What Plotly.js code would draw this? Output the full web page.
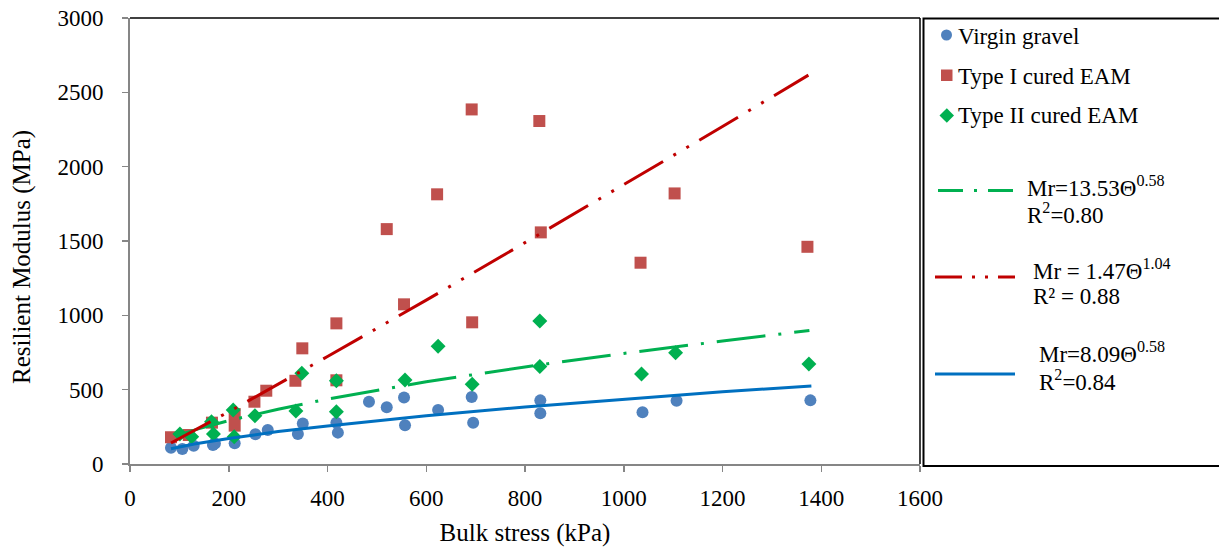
<!DOCTYPE html>
<html>
<head>
<meta charset="utf-8">
<script src="https://cdn.plot.ly/plotly-3.0.1.min.js"></script>
<style>html,body{margin:0;padding:0;background:#fff}#chart{width:1219px;height:548px}</style>
</head>
<body>
<div id="chart"></div>
<script>
// ---- data ----
const gravelX = [83, 106, 129, 168, 172, 212, 254, 279, 340, 350, 418, 421, 484, 520, 555, 557, 624, 692, 695, 831, 831, 1038, 1107, 1378];
const gravelY = [110, 101, 123, 128, 138, 139, 200, 229, 202, 272, 278, 211, 419, 381, 448, 260, 363, 450, 278, 428, 341, 348, 426, 428];

const type1X = [83, 119, 166, 212, 212, 252, 276, 335, 349, 418, 418, 520, 555, 622, 692, 693, 829, 832, 1034, 1103, 1372];
const type1Y = [180, 195, 278, 336, 258, 419, 493, 560, 778, 946, 563, 1580, 1074, 1814, 2385, 953, 2307, 1558, 1354, 1820, 1461];

const type2X = [101, 125, 165, 169, 209, 211, 253, 336, 348, 418, 418, 557, 624, 693, 830, 830, 1036, 1105, 1375];
const type2Y = [202, 184, 285, 202, 363, 184, 325, 356, 610, 560, 352, 565, 792, 536, 962, 656, 605, 748, 672];

// trend lines
const fitType2X = [100, 140, 200, 300, 400, 600, 800, 1000, 1200, 1376];
const fitType2Y = [196, 238, 292, 368, 437, 553, 653, 744, 827, 898];

const fitType1X = [83, 200, 400, 600, 800, 1000, 1200, 1374];
const fitType1Y = [141, 351, 723, 1102, 1489, 1877, 2270, 2616];

const fitGravelX = [83, 130, 200, 300, 400, 600, 800, 1000, 1200, 1380];
const fitGravelY = [102, 134, 172, 218, 256, 325, 384, 437, 486, 525];

const seriesNames = ['Virgin gravel', 'Type I cured EAM', 'Type II cured EAM'];
const eqType2 = ['Mr=13.53\u0398<sup>0.58</sup>', 'R<sup>2</sup>=0.80'];
const eqType1 = ['Mr = 1.47\u0398<sup>1.04</sup>', 'R\u00b2 = 0.88'];
const eqGravel = ['Mr=8.09\u0398<sup>0.58</sup>', 'R<sup>2</sup>=0.84'];

const xTitle = 'Bulk stress (kPa)';
const yTitle = 'Resilient Modulus (MPa)';

// ---- layout geometry ----
const W = 1219, H = 548;
const M = {l: 130, r: 299, t: 18, b: 84};
const PW = W - M.l - M.r, PH = H - M.t - M.b;
const px = p => (p - M.l) / PW;
const py = p => (M.t + PH - p) / PH;

const FONT = '"Times New Roman", "Liberation Serif", serif';
const cBlue = '#4F81BD', cRed = '#C0504D', cGreen = '#00B050';
const lBlue = '#0070C0', lRed = '#C00000', lGreen = '#00B050';

const traces = [
  {x: gravelX, y: gravelY, type: 'scatter', mode: 'markers', name: seriesNames[0],
   marker: {symbol: 'circle', size: 12, color: cBlue}},
  {x: type1X, y: type1Y, type: 'scatter', mode: 'markers', name: seriesNames[1],
   marker: {symbol: 'square', size: 12, color: cRed}},
  {x: type2X, y: type2Y, type: 'scatter', mode: 'markers', name: seriesNames[2],
   marker: {symbol: 'diamond', size: 11.5, color: cGreen}},
  {x: fitType2X, y: fitType2Y, type: 'scatter', mode: 'lines', name: 'Type II fit',
   line: {color: lGreen, width: 3, dash: '49px,13px,3px,13px'}},
  {x: fitType1X, y: fitType1Y, type: 'scatter', mode: 'lines', name: 'Type I fit',
   line: {color: lRed, width: 3, dash: '45px,12px,3px,12px,3px,12px'}},
  {x: fitGravelX, y: fitGravelY, type: 'scatter', mode: 'lines', name: 'Gravel fit',
   line: {color: lBlue, width: 3}}
];

const shapes = [
  {type: 'line', xref: 'paper', yref: 'paper', x0: 0, x1: 1, y0: 1, y1: 1, line: {color: '#000', width: 1.5}},
  {type: 'line', xref: 'paper', yref: 'paper', x0: 1, x1: 1, y0: 0, y1: 1, line: {color: '#000', width: 1.5}},
  {type: 'rect', xref: 'paper', yref: 'paper', x0: px(923.5), x1: px(1230), y0: py(466), y1: py(18.5),
   line: {color: '#000', width: 2}},
  {type: 'circle', xref: 'paper', yref: 'paper', x0: px(941), x1: px(952), y0: py(40.5), y1: py(29.5),
   fillcolor: cBlue, line: {width: 0}},
  {type: 'rect', xref: 'paper', yref: 'paper', x0: px(941), x1: px(952.5), y0: py(81), y1: py(69.5),
   fillcolor: cRed, line: {width: 0}},
  {type: 'path', xref: 'paper', yref: 'paper',
   path: 'M' + px(939.5) + ',' + py(115.5) + ' L' + px(946.8) + ',' + py(108.2) + ' L' + px(954) + ',' + py(115.5) + ' L' + px(946.8) + ',' + py(122.8) + ' Z',
   fillcolor: cGreen, line: {width: 0}},
  {type: 'line', xref: 'paper', yref: 'paper', x0: px(938), x1: px(1015), y0: py(190.5), y1: py(190.5),
   line: {color: lGreen, width: 3, dash: '25px,11px,3px,11px'}},
  {type: 'line', xref: 'paper', yref: 'paper', x0: px(935), x1: px(1015), y0: py(277), y1: py(277),
   line: {color: lRed, width: 3, dash: '27px,10px,3px,10px,3px,10px'}},
  {type: 'line', xref: 'paper', yref: 'paper', x0: px(935), x1: px(1015), y0: py(374), y1: py(374),
   line: {color: lBlue, width: 3}}
];

const legFont = {family: FONT, size: 23, color: '#000'};
function ann(text, x, y) {
  return {text: text, xref: 'paper', yref: 'paper', x: px(x), y: py(y), xanchor: 'left', yanchor: 'middle',
          showarrow: false, font: legFont};
}
const annotations = [
  ann(seriesNames[0], 956, 36),
  ann(seriesNames[1], 956, 76),
  ann(seriesNames[2], 956, 116),
  ann(eqType2[0], 1025, 186), ann(eqType2[1], 1025, 213),
  ann(eqType1[0], 1031, 269), ann(eqType1[1], 1031, 296),
  ann(eqGravel[0], 1037, 352), ann(eqGravel[1], 1037, 380),
  {text: yTitle, xref: 'paper', yref: 'paper', x: px(22), y: py(257), xanchor: 'center', yanchor: 'middle',
   textangle: -90, showarrow: false, font: {family: FONT, size: 25, color: '#000'}}
];

const layout = {
  width: W, height: H,
  margin: M,
  paper_bgcolor: '#fff', plot_bgcolor: '#fff',
  showlegend: false,
  font: {family: FONT, size: 23, color: '#000'},
  xaxis: {
    range: [0, 1600], tickvals: [0, 200, 400, 600, 800, 1000, 1200, 1400, 1600],
    showgrid: false, zeroline: false, showline: true, linecolor: '#868686', linewidth: 2,
    ticks: 'outside', ticklen: 6, tickcolor: '#868686', tickwidth: 1.5,
    tickfont: {family: FONT, size: 23, color: '#000'}, ticklabelstandoff: 6,
    title: {text: xTitle, font: {family: FONT, size: 25, color: '#000'}, standoff: 14}
  },
  yaxis: {
    range: [0, 3000], tickvals: [0, 500, 1000, 1500, 2000, 2500, 3000],
    showgrid: false, zeroline: false, showline: true, linecolor: '#868686', linewidth: 2,
    ticks: 'outside', ticklen: 6, tickcolor: '#868686', tickwidth: 1.5,
    tickfont: {family: FONT, size: 23, color: '#000'}, ticklabelstandoff: 14
  },
  shapes: shapes,
  annotations: annotations
};

Plotly.newPlot('chart', traces, layout, {displayModeBar: false, staticPlot: true});
</script>
</body>
</html>
